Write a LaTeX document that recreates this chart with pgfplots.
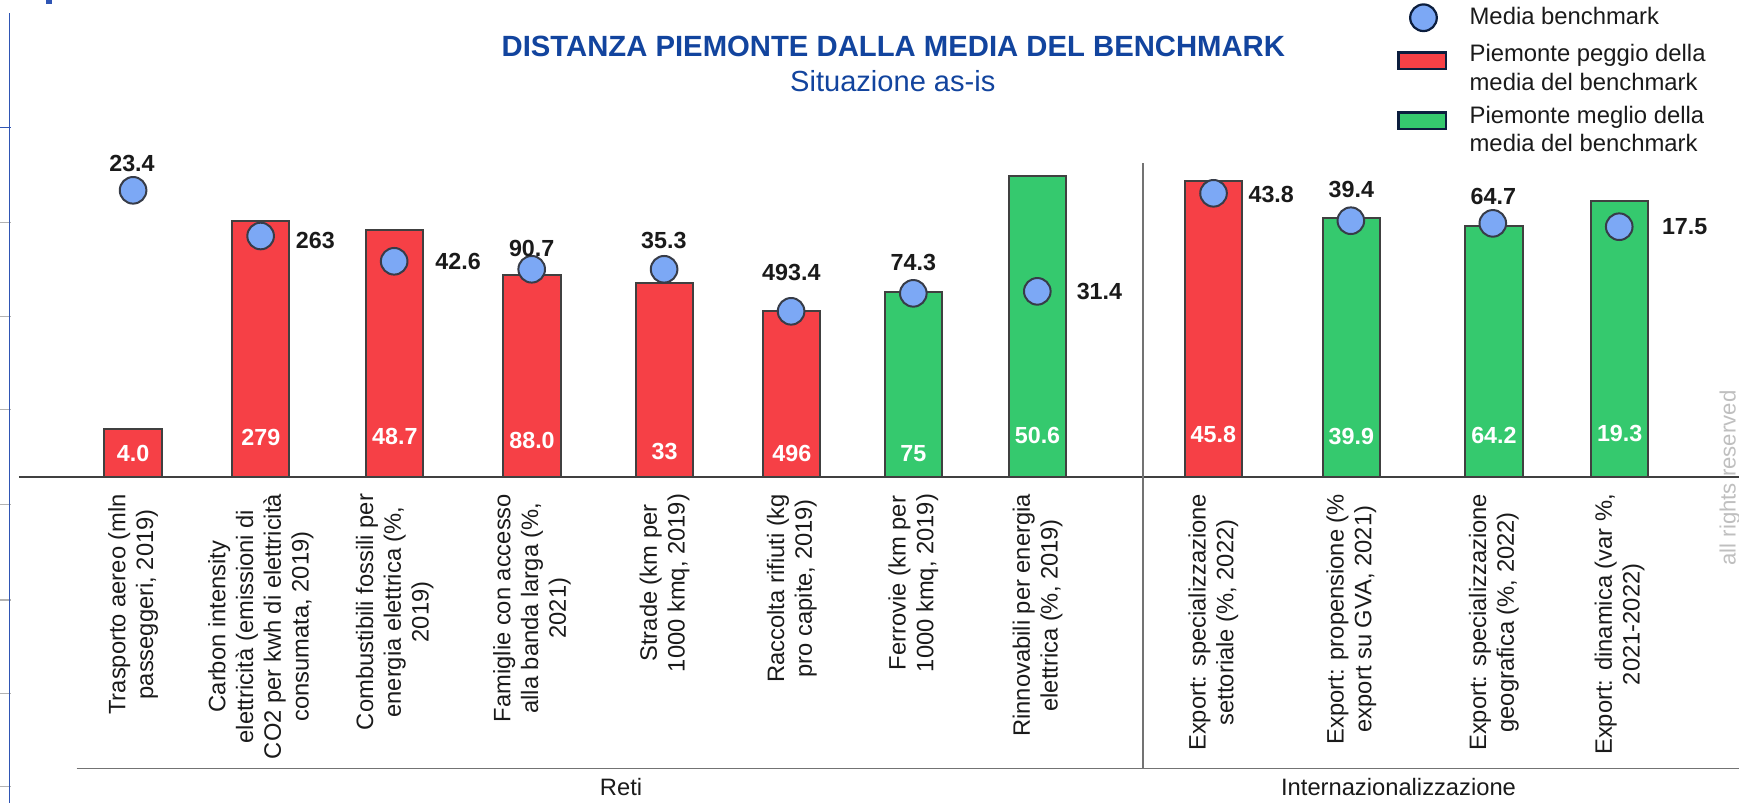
\documentclass[border=0pt]{standalone}
\usepackage{fontspec}
\setmainfont{Liberation Sans}
\usepackage{pgfplots}
\pgfplotsset{compat=1.18}
\usepackage{pgfplotstable}

\definecolor{pred}{RGB}{246,64,70}
\definecolor{pgreen}{RGB}{53,201,110}
\definecolor{bench}{RGB}{124,168,245}
\definecolor{bord}{RGB}{64,64,64}
\definecolor{circ}{RGB}{55,60,72}
\definecolor{navy}{RGB}{12,30,62}
\definecolor{titleblue}{RGB}{18,68,158}
\definecolor{txt}{RGB}{26,26,26}
\definecolor{rulegray}{RGB}{115,115,115}
\definecolor{leftblue}{RGB}{47,85,180}
\definecolor{reserved}{RGB}{191,191,191}

% Piemonte bars (x = category position, h = bar height)
\pgfplotstableread{
x h
120 43.1
235.2 230.4
356 223
479.7 182
599.3 175
714 149.5
1094 266.8
}\redbars
\pgfplotstableread{
x h
823.6 167
935.5 271
1218.5 233.7
1347 226.5
1460.4 248.8
}\greenbars
% benchmark average (circle) and its label offset
\pgfplotstableread{
x y label dx dy
120 258.4 23.4 -0.5 12.2
235 217.2 263 24.65 -1.8
355.4 194.4 42.6 28.8 -0.2
479.4 187.2 90.7 0 9.4
598.8 187.2 35.3 -0.1 13.2
713.3 149.3 493.4 0.1 17.35
823.5 165.5 74.3 0 13.9
935.3 167.3 31.4 28 -0.15
1094.2 255.7 43.8 26 -0.6
1218 231 39.4 0.2 13.85
1346 228.6 64.7 0.25 12.05
1460 225.6 17.5 29.5 0
}\bench
% Piemonte values written inside the bars
\pgfplotstableread{
x y label
120 21.2 4.0
235.2 35.6 279
356 36.2 48.7
479.7 33.2 88.0
599.3 22.7 33
714 21.2 496
823.6 20.6 75
935.5 37.7 50.6
1094 38.3 45.8
1218.5 36.2 39.9
1347 37.1 64.2
1460.4 39.2 19.3
}\barlabels

\begin{document}
\begin{tikzpicture}
\useasboundingbox (0pt,0pt) rectangle (784pt,362pt);
\begin{axis}[
  at={(0pt,147pt)}, anchor=south west,
  scale only axis, width=784pt, height=215pt,
  xmin=0, xmax=1568, ymin=0, ymax=430,
  axis line style={draw=none},
  ytick=\empty,
  xtick={120,235.2,356,479.7,599.3,714,823.6,935.5,1094,1218.5,1347,1460.4},
  xticklabels={
    {Trasporto aereo (mln\\passeggeri, 2019)},
    {Carbon intensity\\elettricità (emissioni di\\CO2 per kwh di elettricità\\consumata, 2019)},
    {Combustibili fossili per\\energia elettrica (\%,\\2019)},
    {Famiglie con accesso\\alla banda larga (\%,\\2021)},
    {Strade (km per\\1000 kmq, 2019)},
    {Raccolta rifiuti (kg\\pro capite, 2019)},
    {Ferrovie (km per\\1000 kmq, 2019)},
    {Rinnovabili per energia\\elettrica (\%, 2019)},
    {Export: specializzazione\\settoriale (\%, 2022)},
    {Export: propensione (\%\\export su GVA, 2021)},
    {Export: specializzazione\\geografica (\%, 2022)},
    {Export: dinamica (var \%,\\2021-2022)}},
  major tick length=0pt,
  xtick style={draw=none},
  xticklabel style={rotate=90, anchor=east, align=center, inner sep=0pt,
    font=\fontsize{10.7}{12.5}\selectfont, text=txt},
  xticklabel shift=7.5pt,
  clip=false,
]
\addplot[ybar, bar width=25.8pt, bar shift=0pt, fill=pred, draw=bord, line width=0.9pt]
  table[x=x, y=h]{\redbars};
\addplot[ybar, bar width=25.8pt, bar shift=0pt, fill=pgreen, draw=bord, line width=0.9pt]
  table[x=x, y=h]{\greenbars};
\addplot[only marks, mark=*, mark size=6pt,
  mark options={fill=bench, draw=circ, line width=0.9pt},
  nodes near coords, point meta=explicit symbolic,
  visualization depends on={\thisrow{dx} \as \dx},
  visualization depends on={\thisrow{dy} \as \dy},
  every node near coord/.append style={anchor=center, inner sep=0pt,
    xshift=\dx pt, yshift=\dy pt,
    font=\fontsize{10.5}{12}\selectfont\bfseries, text=txt}]
  table[x=x, y=y, meta=label]{\bench};
\addplot[draw=none, mark=none,
  nodes near coords, point meta=explicit symbolic,
  every node near coord/.append style={anchor=center, inner sep=0pt,
    font=\fontsize{10.5}{12}\selectfont\bfseries, text=white}]
  table[x=x, y=y, meta=label]{\barlabels};
\end{axis}

\begin{scope}[x=0.5pt, y=-0.5pt, yshift=362pt]
  % left edge remnants
  \foreach \yy in {201,285,369,455,541,625,709}
    \draw[gray!60, line width=0.5pt] (0,\yy) -- (10,\yy);
  \draw[leftblue, line width=0.6pt] (0,115) -- (10,115);
  \draw[leftblue, line width=0.7pt] (8.6,12) -- (8.6,724);
  \fill[leftblue] (41.5,0) rectangle (46.5,3.6);
  % baseline, separators
  \draw[bord, line width=1pt] (17,430) -- (1568,430);
  \draw[rulegray, line width=0.6pt] (69,693) -- (1568,693);
  \draw[rulegray, line width=0.6pt] (1030.5,147) -- (1030.5,693);
  % group labels
  \node[anchor=base, inner sep=0pt, font=\fontsize{10.7}{12.5}\selectfont, text=txt] at (560,717) {Reti};
  \node[anchor=base, inner sep=0pt, font=\fontsize{10.7}{12.5}\selectfont, text=txt] at (1261,717) {Internazionalizzazione};
  % titles
  \node[anchor=base, inner sep=0pt, font=\fontsize{13.2}{15}\selectfont\bfseries, text=titleblue] at (805.5,51) {DISTANZA PIEMONTE DALLA MEDIA DEL BENCHMARK};
  \node[anchor=base, inner sep=0pt, font=\fontsize{13.1}{15}\selectfont, text=titleblue] at (805,82.6) {Situazione as-is};
  % legend
  \draw[fill=bench, draw=navy, line width=1pt] (1283.5,16) circle[radius=6pt];
  \node[anchor=base west, inner sep=0pt, font=\fontsize{10.75}{12.8}\selectfont, text=txt] at (1324.7,22.5) {Media benchmark};
  \draw[fill=pred, draw=navy, line width=1.3pt] (1260.6,47.5) rectangle (1303.8,62.2);
  \node[anchor=base west, inner sep=0pt, font=\fontsize{10.75}{12.8}\selectfont, text=txt] at (1324.7,55.6) {Piemonte peggio della};
  \node[anchor=base west, inner sep=0pt, font=\fontsize{10.75}{12.8}\selectfont, text=txt] at (1324.7,81.2) {media del benchmark};
  \draw[fill=pgreen, draw=navy, line width=1.3pt] (1260.6,101.6) rectangle (1303.8,116.3);
  \node[anchor=base west, inner sep=0pt, font=\fontsize{10.75}{12.8}\selectfont, text=txt] at (1324.7,111.2) {Piemonte meglio della};
  \node[anchor=base west, inner sep=0pt, font=\fontsize{10.75}{12.8}\selectfont, text=txt] at (1324.7,136.8) {media del benchmark};
  % watermark
  \node[rotate=90, anchor=base, inner sep=0pt, font=\fontsize{10}{12}\selectfont, text=reserved] at (1565,431) {all rights reserved};
\end{scope}
\end{tikzpicture}
\end{document}
